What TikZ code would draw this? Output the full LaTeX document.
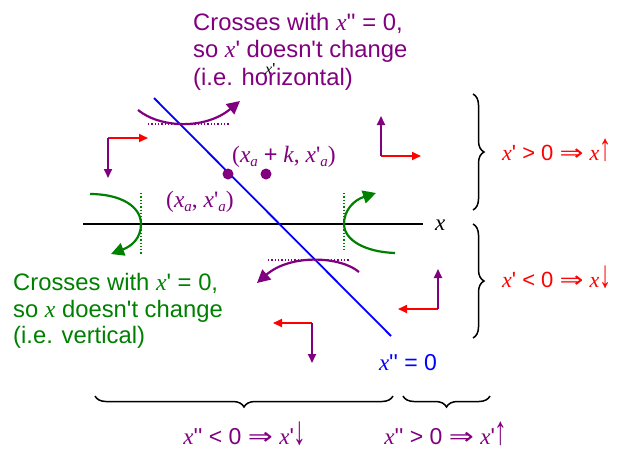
\documentclass[tikz,border=0pt]{standalone}
\usepackage{fontspec}
\usepackage{graphicx}
\setmainfont{Liberation Sans}[Ligatures=TeXOff]
\newfontfamily\srf{Liberation Serif}[Ligatures=TeXOff]
\newfontfamily\djv{DejaVu Sans}[Ligatures=TeXOff]
\usetikzlibrary{arrows.meta,decorations.pathreplacing}
\definecolor{pur}{RGB}{128,0,128}
\definecolor{grn}{RGB}{0,128,0}
\definecolor{rd}{RGB}{255,0,0}
\definecolor{bl}{RGB}{0,0,255}
\newcommand\vx{{\srf\itshape x}}
\newcommand\impl{{\djv\scalebox{1.3}[1]{⇒}}}
\newcommand\thinarw[1]{\smash{\scalebox{1.1}[1.75]{\srf #1}}}
\newcommand\sbs[1]{\raisebox{-0.45ex}{\fontsize{15}{15}\selectfont\itshape #1}}
\begin{document}
\begin{tikzpicture}[x=1pt,y=-1pt,
  txt/.style={anchor=base west,inner sep=0pt,font=\fontsize{23.8}{27}\selectfont},
  rlab/.style={anchor=base west,inner sep=0pt,font=\fontsize{22}{26}\selectfont},
  lab/.style={anchor=base,inner sep=0pt,font=\fontsize{23}{27}\selectfont},
  ptlab/.style={anchor=base west,inner sep=0pt,font=\fontsize{23.5}{27}\selectfont\srf},
  bigarc/.style={line width=2.2pt,-{Triangle[length=13pt,width=13pt]}},
  smallarr/.style={line width=1.8pt,-{Triangle[length=9pt,width=8pt]}},
  dotline/.style={line width=1.3pt,dotted},
  brc/.style={draw=black,line width=1.5pt,decorate,decoration={brace,amplitude=11pt}},
  dot/.style={circle,fill=pur,inner sep=0pt,minimum size=11pt}]
\useasboundingbox (0,0) rectangle (623,450);

% axis
\coordinate (ax0) at (83,224);
\coordinate (ax1) at (423,224);
\draw[line width=1.8pt] (ax0) -- (ax1);
\node[anchor=base west,inner sep=0pt,font=\fontsize{23}{26}\selectfont] (xlab) at (435,230) {\vx};
\node[anchor=base west,inner sep=0pt,font=\fontsize{16}{18}\selectfont] (xplab) at (265,74) {\vx'};

% blue nullcline
\coordinate (b0) at (154,98);
\coordinate (b1) at (391,336);
\draw[bl,line width=1.8pt] (b0) -- (b1);
\node[lab,text=bl] (nullc) at (408,370) {\vx'' = 0};

% purple top text
\begin{scope}[text=pur]
\node[txt] (pt1) at (193,30) {Crosses with \vx'' = 0,};
\node[txt] (pt2) at (193,57.5) {so \vx' doesn't change};
\node[txt] (pt3) at (193,85) {(i.e. horizontal)};
\end{scope}

% green text
\begin{scope}[text=grn]
\node[txt] (gt1) at (13,290) {Crosses with \vx' = 0,};
\node[txt] (gt2) at (13,317) {so \vx\ doesn't change};
\node[txt] (gt3) at (13,343.5) {(i.e. vertical)};
\end{scope}

% purple arcs with dotted tangents
\coordinate (pa0) at (138,110);
\coordinate (pa1) at (240,101);
\coordinate (pd0) at (148,124);
\coordinate (pd1) at (230,124);
\draw[pur,dotline] (pd0) -- (pd1);
\draw[pur,bigarc] (pa0) .. controls (160,128) and (205,130) .. (pa1);

\coordinate (pb0) at (359,272);
\coordinate (pb1) at (257,283);
\coordinate (pe0) at (268,260);
\coordinate (pe1) at (350,260);
\draw[pur,dotline] (pe0) -- (pe1);
\draw[pur,bigarc] (pb0) .. controls (340,256) and (290,254) .. (pb1);

% green arcs with dotted tangents
\coordinate (gd0) at (141,193);
\coordinate (gd1) at (141,254);
\draw[grn,dotline] (gd0) -- (gd1);
\coordinate (ga0) at (90,194);
\coordinate (gam) at (141,224);
\coordinate (ga1) at (111,254);
\draw[grn,bigarc] (ga0) .. controls (120,194) and (141,206) .. (gam) .. controls (141,238) and (132,246) .. (ga1);

\coordinate (ge0) at (344,193);
\coordinate (ge1) at (344,252);
\draw[grn,dotline] (ge0) -- (ge1);
\coordinate (gb0) at (395,253);
\coordinate (gbm) at (344,224);
\coordinate (gb1) at (376,193);
\draw[grn,bigarc] (gb0) .. controls (365,252) and (344,240) .. (gbm) .. controls (344,210) and (354,200) .. (gb1);

% points
\node[dot] (pA) at (228,174) {};
\node[dot] (pB) at (266,174) {};
\node[ptlab,text=pur] (labB) at (232,162) {(\vx\sbs{a} {\rmfamily +} \textit{k}, \vx'\sbs{a})};
\node[ptlab,text=pur] (labA) at (166,207) {(\vx\sbs{a}, \vx'\sbs{a})};

% direction arrow pairs
\coordinate (c1) at (108,138);
\coordinate (c1r) at (148,138);
\coordinate (c1d) at (108,178);
\draw[rd,smallarr] (c1) -- (c1r);
\draw[pur,smallarr] (c1) -- (c1d);

\coordinate (c2) at (381,156);
\coordinate (c2r) at (421,156);
\coordinate (c2u) at (381,116);
\draw[rd,smallarr] (c2) -- (c2r);
\draw[pur,smallarr] (c2) -- (c2u);

\coordinate (c3) at (438,309);
\coordinate (c3l) at (398,309);
\coordinate (c3u) at (438,269);
\draw[rd,smallarr] (c3) -- (c3l);
\draw[pur,smallarr] (c3) -- (c3u);

\coordinate (c4) at (312,323);
\coordinate (c4l) at (273,323);
\coordinate (c4d) at (312,363);
\draw[rd,smallarr] (c4) -- (c4l);
\draw[pur,smallarr] (c4) -- (c4d);

% braces right
\coordinate (r1a) at (473,94);
\coordinate (r1b) at (473,210);
\draw[brc] (r1a) -- (r1b);
\node[rlab,text=rd] (rl1) at (502,160) {\vx' > 0 \impl{} \vx\thinarw{↑}};
\coordinate (r2a) at (473,224);
\coordinate (r2b) at (473,338);
\draw[brc] (r2a) -- (r2b);
\node[rlab,text=rd] (rl2) at (502,287) {\vx' < 0 \impl{} \vx\thinarw{↓}};

% braces bottom
\coordinate (d1a) at (393,396);
\coordinate (d1b) at (95,396);
\draw[brc] (d1a) -- (d1b);
\node[lab,text=pur] (bl1) at (245,444) {\vx'' < 0 \impl{} \vx'\thinarw{↓}};
\coordinate (d2a) at (490,396);
\coordinate (d2b) at (403,396);
\draw[brc] (d2a) -- (d2b);
\node[lab,text=pur] (bl2) at (446,444) {\vx'' > 0 \impl{} \vx'\thinarw{↑}};
\end{tikzpicture}
\end{document}
